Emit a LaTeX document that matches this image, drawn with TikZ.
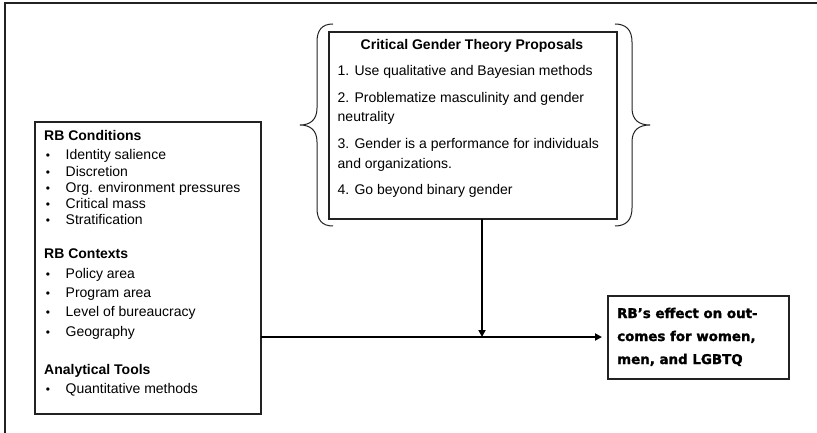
\documentclass[tikz,border=0pt]{standalone}
\usepackage{fontspec}
\setmainfont{Liberation Sans}
\newfontfamily\heavyfont[BoldFeatures={FakeBold=1.5}]{DejaVu Sans}
\usetikzlibrary{arrows.meta}
\definecolor{ink}{HTML}{222222}
\begin{document}
\begin{tikzpicture}[x=1pt,y=-1pt,
  box/.style={draw=ink,line width=1.1pt,inner sep=0pt,outer sep=0pt},
  txt/.style={anchor=base west,inner sep=0pt,font=\fontsize{14}{16}\selectfont},
  hd/.style={txt,font=\fontsize{14}{16}\selectfont\bfseries},
  bul/.style={anchor=base,inner sep=0pt,font=\fontsize{12}{16}\selectfont},
  heavy/.style={anchor=base west,inner sep=0pt,font=\heavyfont\bfseries\fontsize{13.4}{16}\selectfont},
  brace/.style={draw=ink,line width=1pt},
  conn/.style={draw=black,line width=2.2pt,-{Triangle[length=7pt,width=7pt]}}]
\useasboundingbox (0,0) rectangle (817,433);
\fill[white] (0,0) rectangle (817,433);
% outer frame
\draw[ink,line width=1.6pt] (5,433) -- (5,3) -- (817,3);

% boxes
\node[box,minimum width=226pt,minimum height=292pt] (lb) at (148,268) {};
\node[box,minimum width=288pt,minimum height=187pt] (tb) at (473,125.5) {};
\node[box,minimum width=181pt,minimum height=83pt] (rb) at (698.5,337.5) {};

% braces
\draw[brace] (333,24) .. controls (322,24) and (317,30) .. (317,42) -- (317,108)
  .. controls (317,120) and (310,125) .. (300,125)
  .. controls (310,125) and (317,130) .. (317,142) -- (317,208)
  .. controls (317,220) and (322,226) .. (333,226);
\draw[brace] (615,24) .. controls (626,24) and (632,30) .. (632,42) -- (632,108)
  .. controls (632,120) and (639,125) .. (650,125)
  .. controls (639,125) and (632,130) .. (632,142) -- (632,208)
  .. controls (632,220) and (626,226) .. (615,226);

% left box text
\node[hd] (h1) at (44,141) {RB Conditions};
\node[bul] (b1) at (48,160) {•}; \node[txt] (t1) at (65.5,160) {Identity salience};
\node[bul] (b2) at (48,176) {•}; \node[txt] (t2) at (65.5,176) {Discretion};
\node[bul] (b3) at (48,193) {•}; \node[txt] (t3) at (65.5,193) {Org. environment pressures};
\node[bul] (b4) at (48,208) {•}; \node[txt] (t4) at (65.5,208) {Critical mass};
\node[bul] (b5) at (48,225) {•}; \node[txt] (t5) at (65.5,225) {Stratification};
\node[hd] (h2) at (44,258) {RB Contexts};
\node[bul] (b6) at (48,278) {•}; \node[txt] (t6) at (65.5,278) {Policy area};
\node[bul] (b7) at (48,297) {•}; \node[txt] (t7) at (65.5,297) {Program area};
\node[bul] (b8) at (48,316) {•}; \node[txt] (t8) at (65.5,316) {Level of bureaucracy};
\node[bul] (b9) at (48,336) {•}; \node[txt] (t9) at (65.5,336) {Geography};
\node[hd] (h3) at (44,374) {Analytical Tools};
\node[bul] (b10) at (48,393) {•}; \node[txt] (t10) at (65.5,393) {Quantitative methods};

% top box text
\node[hd,anchor=base] (ct) at (472,50) {Critical Gender Theory Proposals};
\node[txt] (p1) at (337.5,76) {1. Use qualitative and Bayesian methods};
\node[txt] (p2a) at (337.5,103) {2. Problematize masculinity and gender};
\node[txt] (p2b) at (337.5,122) {neutrality};
\node[txt] (p3a) at (337.5,149) {3. Gender is a performance for individuals};
\node[txt] (p3b) at (337.5,168) {and organizations.};
\node[txt] (p4) at (337.5,194) {4. Go beyond binary gender};

% right box text
\node[heavy] (r1) at (617,318) {RB’s effect on out-};
\node[heavy] (r2) at (617,341) {comes for women,};
\node[heavy] (r3) at (617,364) {men, and LGBTQ};

% connectors
\coordinate (j) at (482,337);
\draw[conn] (lb.east |- j) -- ([xshift=-6pt]rb.west |- j);
\draw[conn,line width=1.8pt] (tb.south -| j) -- (j);
\end{tikzpicture}
\end{document}
